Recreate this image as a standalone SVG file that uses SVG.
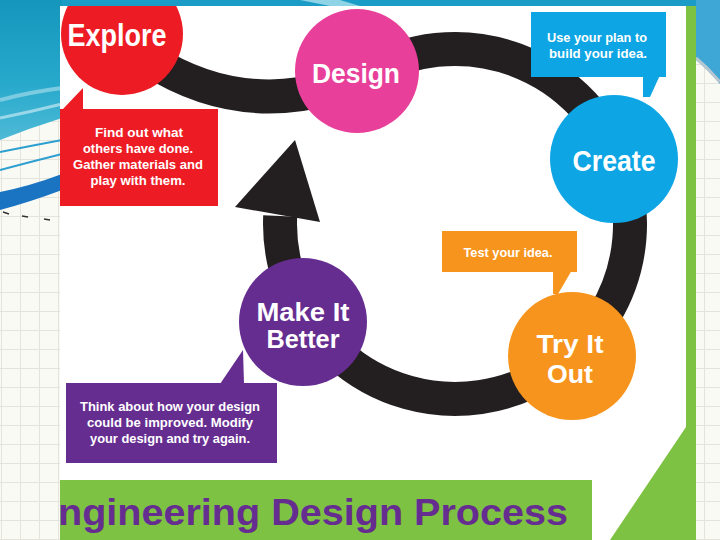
<svg xmlns="http://www.w3.org/2000/svg" width="720" height="540" viewBox="0 0 720 540">
<defs>
<style>
.lbl{font-family:"Liberation Sans",Arial,sans-serif;font-weight:bold;fill:#ffffff;text-anchor:middle;}
.big{font-size:26px;}
.small{font-size:13.5px;}
.ring{fill:none;stroke:#231f20;stroke-width:34;}
</style>
<pattern id="grid" width="19" height="19" patternUnits="userSpaceOnUse" x="1" y="7">
<rect width="19" height="19" fill="#fafaf5"/>
<path d="M0 0.5H19M0.5 0V19" stroke="#e4e4dc" stroke-width="1"/>
</pattern>
<linearGradient id="teal" x1="0" y1="0" x2="0" y2="1">
<stop offset="0" stop-color="#1597bd"/>
<stop offset="0.6" stop-color="#27a9cc"/>
<stop offset="1" stop-color="#4fbad6"/>
</linearGradient>
<clipPath id="poster"><rect x="60" y="6" width="626" height="534"/></clipPath>
<clipPath id="band"><rect x="60" y="480" width="532" height="60"/></clipPath>
</defs>

<g id="background">
<rect width="720" height="540" fill="url(#grid)"/>
<path d="M0 0H720V6H0Z" fill="#1b9cc6"/>
<path d="M300 0L330 6H360L340 0Z" fill="#8fd3e6"/>
<path d="M0 0H62V118Q30 128 0 140Z" fill="url(#teal)"/>
<path d="M0 100Q30 92 62 88" fill="none" stroke="#7ccbe0" stroke-width="4"/>
<path d="M0 118Q30 112 62 104" fill="none" stroke="#9ad7e8" stroke-width="3"/>
<path d="M0 152Q30 146 62 140" fill="none" stroke="#2d9fd0" stroke-width="2"/>
<path d="M0 170Q30 162 62 154" fill="none" stroke="#2d9fd0" stroke-width="2"/>
<path d="M0 192Q30 186 62 174V190Q30 202 0 210Z" fill="#1a74c2"/>
<path d="M3 212L9 214M22 216L28 217M44 219L50 220" stroke="#333" stroke-width="1.5"/>
<path d="M696 0H720V84Q708 70 696 60Z" fill="#3fa7d6"/>
<path d="M696 58Q708 68 720 82" fill="none" stroke="#b8c6cf" stroke-width="3"/>
</g>

<g id="poster-frame">
<rect x="60" y="6" width="626" height="534" fill="#ffffff"/>
<rect x="686" y="6" width="10" height="534" fill="#7dc242"/>
<polygon points="686,427 686,540 610,540" fill="#7dc242"/>
<rect x="60" y="480" width="532" height="60" fill="#7dc242"/>
<text x="58" y="525" clip-path="url(#band)" font-family="'Liberation Sans',Arial,sans-serif" font-weight="bold" font-size="37" fill="#662d91" textLength="510" lengthAdjust="spacingAndGlyphs">ngineering Design Process</text>
</g>

<g id="connectors">
<path class="ring" d="M150 60Q235 114 330 88" stroke-width="31"/>
<path class="ring" d="M367.5 72.4A175 175 0 1 1 280.2 216"/>
<polygon points="295,140 235,207 320,222" fill="#231f20"/>
</g>

<g id="explore" clip-path="url(#poster)">
<circle cx="122" cy="34" r="61" fill="#ed1c24"/>
<text class="lbl" x="117" y="46" font-size="31" textLength="99" lengthAdjust="spacingAndGlyphs">Explore</text>
</g>
<g id="explore-note">
<polygon points="62,110 83,88 83,110" fill="#ed1c24"/>
<rect x="60" y="109" width="158" height="97" fill="#ed1c24"/>
<text class="lbl small" x="139" y="137" textLength="88" lengthAdjust="spacingAndGlyphs">Find out what</text>
<text class="lbl small" x="138" y="153" textLength="110" lengthAdjust="spacingAndGlyphs">others have done.</text>
<text class="lbl small" x="138" y="169" textLength="130" lengthAdjust="spacingAndGlyphs">Gather materials and</text>
<text class="lbl small" x="138" y="185" textLength="95" lengthAdjust="spacingAndGlyphs">play with them.</text>
</g>

<g id="design">
<circle cx="357" cy="71" r="62" fill="#e8409a"/>
<text class="lbl" x="356" y="83" font-size="27" textLength="88" lengthAdjust="spacingAndGlyphs">Design</text>
</g>

<g id="create-note">
<rect x="531" y="12" width="135" height="65" fill="#0ea5e4"/>
<polygon points="643,76 666,62 650,97 643,97" fill="#0ea5e4"/>
<text class="lbl small" x="597" y="42" textLength="100" lengthAdjust="spacingAndGlyphs">Use your plan to</text>
<text class="lbl small" x="598" y="58" textLength="98" lengthAdjust="spacingAndGlyphs">build your idea.</text>
</g>
<g id="create">
<circle cx="614" cy="159" r="64" fill="#0ea5e4"/>
<text class="lbl" x="614" y="171" font-size="29" textLength="83" lengthAdjust="spacingAndGlyphs">Create</text>
</g>

<g id="try-note">
<rect x="442" y="231" width="135" height="41" fill="#f7941d"/>
<polygon points="553,270 572,270 558,294 553,294" fill="#f7941d"/>
<text class="lbl small" x="508" y="257" textLength="89" lengthAdjust="spacingAndGlyphs">Test your idea.</text>
</g>
<g id="try-it-out">
<circle cx="572" cy="356" r="64" fill="#f7941d"/>
<text class="lbl big" x="570" y="353" textLength="67" lengthAdjust="spacingAndGlyphs">Try It</text>
<text class="lbl big" x="570" y="383" textLength="46" lengthAdjust="spacingAndGlyphs">Out</text>
</g>

<g id="make-it-better">
<circle cx="303" cy="322" r="64" fill="#662d91"/>
<text class="lbl big" x="303" y="321" textLength="93" lengthAdjust="spacingAndGlyphs">Make It</text>
<text class="lbl big" x="303" y="348" textLength="73" lengthAdjust="spacingAndGlyphs">Better</text>
</g>
<g id="better-note">
<polygon points="220,384 243,350 244,384" fill="#662d91"/>
<rect x="66" y="383" width="211" height="80" fill="#662d91"/>
<text class="lbl small" x="170" y="411" textLength="180" lengthAdjust="spacingAndGlyphs">Think about how your design</text>
<text class="lbl small" x="170" y="427" textLength="166" lengthAdjust="spacingAndGlyphs">could be improved. Modify</text>
<text class="lbl small" x="170" y="443" textLength="160" lengthAdjust="spacingAndGlyphs">your design and try again.</text>
</g>
</svg>
